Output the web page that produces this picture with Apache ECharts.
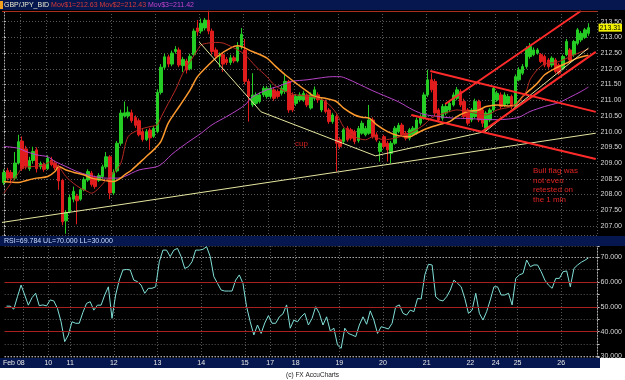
<!DOCTYPE html>
<html>
<head>
<meta charset="utf-8">
<title>GBP/JPY_BID</title>
<script src="https://cdn.jsdelivr.net/npm/echarts@6/dist/echarts.min.js"></script>
<style>
html, body { margin: 0; padding: 0; background: #fff; }
#chart { width: 625px; height: 380px; }
</style>
</head>
<body>
<div id="chart"></div>
<script>
// 2 hour bars, Feb 08 -> Feb 26, a couple of empty slots on the right
var categories = [];
for (var n = 0; n < 163; n++) categories.push('b' + n);

var dayTickIdx  = [5, 12, 18, 30, 42, 54, 66, 73, 80, 92, 104, 116, 128, 135, 141, 153];
var dayTickText = ['Feb 08', '10', '11', '12', '13', '14', '15', '17', '18', '19', '20', '21', '22', '24', '25', '26'];

// [open, close, low, high]
var ohlc = [
  [208.38,208.70,208.30,208.80],[208.76,208.52,208.45,208.85],[208.70,208.52,208.40,208.78],[208.52,209.00,208.45,209.35],
  [209.00,209.68,208.95,209.90],[209.70,208.82,208.75,209.85],[209.45,208.90,208.80,209.55],[208.82,209.08,208.75,209.20],
  [209.08,209.37,209.00,209.52],[209.42,208.82,208.70,209.50],[208.88,208.98,208.80,209.05],[208.95,208.80,208.72,209.02],
  [208.82,209.15,208.78,209.25],[209.10,208.95,208.90,209.20],[209.00,208.85,208.78,209.08],[208.85,208.43,208.15,208.95],
  [208.45,207.13,207.02,208.50],[207.16,207.43,206.75,207.50],[207.45,207.90,207.40,208.00],[207.85,208.10,207.75,208.25],
  [207.95,207.80,207.05,208.02],[207.85,208.15,207.80,208.20],[208.15,208.48,208.10,208.55],[208.46,208.73,208.40,208.80],
  [208.68,208.32,208.25,208.75],[208.55,208.25,208.18,208.60],[208.45,208.60,208.40,208.68],[208.57,208.88,208.50,208.95],
  [208.88,209.20,208.82,209.35],[209.20,208.05,207.85,209.25],[208.05,208.70,207.98,208.80],[208.75,209.63,208.70,209.70],
  [209.63,210.59,209.55,210.70],[210.50,210.60,210.45,210.96],[210.50,210.62,210.42,210.80],[210.60,210.35,210.28,210.70],
  [210.45,210.20,210.12,210.52],[210.35,209.90,209.85,210.42],[210.00,209.75,209.68,210.08],[209.75,210.00,209.70,210.08],
  [210.05,209.80,209.42,210.12],[209.85,210.10,209.80,210.18],[210.00,211.25,209.95,211.35],[211.25,212.05,211.18,212.15],
  [212.05,212.38,211.98,212.48],[212.38,212.15,212.05,212.45],[212.15,212.50,212.08,212.58],[212.55,212.62,212.48,212.72],
  [212.60,212.12,212.05,212.68],[212.10,212.30,211.90,212.38],[212.25,211.96,211.85,212.32],[212.00,212.40,211.95,212.48],
  [212.45,213.20,212.40,213.28],[213.30,213.18,213.05,213.55],[213.20,213.45,213.12,213.60],[213.30,213.55,213.22,213.62],
  [213.55,213.20,213.10,213.85],[213.20,212.55,212.45,213.28],[212.60,212.40,212.30,212.68],[212.40,212.43,212.05,212.52],
  [212.45,212.15,211.90,212.52],[212.30,212.20,212.12,212.38],[212.20,212.35,212.12,212.45],[212.35,212.25,212.18,212.42],
  [212.25,212.70,212.20,212.85],[212.70,213.10,212.62,213.30],[212.60,211.60,211.50,212.95],[211.60,211.12,210.32,211.68],
  [210.85,211.17,210.78,211.86],[210.90,211.17,210.82,211.25],[210.96,211.17,210.90,211.25],[211.17,211.38,211.10,211.45],
  [211.12,211.38,211.05,211.45],[211.12,211.38,211.05,211.50],[211.33,211.06,210.98,211.40],[211.28,211.12,211.05,211.35],
  [211.22,211.38,211.15,211.45],[211.28,211.60,211.20,211.81],[211.60,210.69,210.60,211.65],[211.17,210.69,210.62,211.25],
  [210.90,211.12,210.82,211.20],[211.01,211.17,210.95,211.25],[211.01,211.22,210.95,211.30],[211.17,210.85,210.78,211.22],
  [210.75,211.17,210.70,211.25],[211.06,211.33,211.00,211.44],[211.17,211.01,210.92,211.25],[210.69,211.01,210.62,211.08],
  [210.96,210.64,210.58,211.02],[210.69,210.32,210.25,210.75],[210.32,210.53,210.25,210.60],[210.48,209.63,208.73,210.55],
  [209.74,209.53,209.45,209.82],[209.69,210.06,209.62,210.12],[210.11,209.74,209.68,210.18],[210.06,209.79,209.72,210.12],
  [210.00,209.69,209.60,210.06],[209.72,210.10,209.65,210.18],[209.95,210.27,209.90,210.35],[209.90,210.10,209.85,210.18],
  [209.95,210.37,209.90,210.85],[210.37,209.84,209.78,210.45],[209.90,209.74,209.68,209.98],[209.37,209.63,209.05,209.70],
  [209.84,209.53,209.46,209.90],[209.63,209.42,209.05,209.70],[209.31,209.63,208.99,209.70],[209.63,210.11,209.58,210.18],
  [210.00,210.20,209.95,210.28],[210.21,209.90,209.85,210.28],[209.95,209.79,209.72,210.02],[209.79,210.06,209.72,210.12],
  [209.90,210.11,209.85,210.18],[209.95,210.37,209.90,210.45],[210.27,210.48,210.20,210.55],[210.43,211.17,210.38,211.25],
  [211.17,211.65,211.10,211.97],[211.65,211.33,211.25,211.86],[211.60,210.59,210.50,211.68],[210.69,210.37,210.30,210.75],
  [210.43,210.80,210.35,210.88],[210.59,210.80,210.52,210.88],[210.69,210.90,210.62,210.98],[210.85,211.17,210.80,211.25],
  [211.06,211.33,211.00,211.42],[211.28,210.85,210.78,211.35],[210.96,210.48,210.40,211.05],[210.69,210.27,210.20,210.75],
  [210.37,210.69,210.30,210.75],[210.48,210.96,210.42,211.05],[210.96,210.37,210.30,211.02],[210.69,210.27,210.15,210.75],
  [210.11,210.59,210.00,210.65],[210.37,210.69,210.30,210.75],[210.69,211.38,210.62,211.45],[211.01,211.22,210.95,211.30],
  [211.17,210.80,210.72,211.25],[210.85,211.17,210.78,211.25],[210.90,211.12,210.85,211.20],[211.12,210.80,210.72,211.18],
  [210.80,211.75,210.75,211.82],[211.65,211.97,211.60,212.05],[211.86,212.07,211.80,212.15],[212.07,212.65,212.00,212.72],
  [212.39,212.71,212.32,212.82],[212.45,212.60,212.40,212.68],[212.50,212.60,212.45,212.66],[212.45,212.23,212.18,212.50],
  [212.39,212.12,212.05,212.45],[212.28,212.07,212.00,212.34],[212.12,212.34,212.05,212.40],[212.28,211.91,211.85,212.34],
  [212.12,211.86,211.80,212.18],[212.02,212.39,211.95,212.45],[212.45,212.87,212.40,212.95],[212.60,212.28,212.20,212.66],
  [212.45,212.87,212.38,212.92],[212.81,213.24,212.75,213.30],[212.92,213.13,212.85,213.20],[213.00,213.24,212.95,213.30],
  [213.13,213.31,213.05,213.45]
];

var rsi = [
  50.3,50.3,49.1,54.1,58.8,54.8,50.7,53.7,55.5,50.5,
  50.8,50.4,52.8,52.4,49.4,44.0,36.0,38.7,44.0,43.4,
  43.4,47.8,51.4,52.1,48.7,50.7,50.7,54.8,58.1,45.4,
  54.8,60.8,64.9,65.1,64.9,60.8,60.2,58.8,55.5,57.5,
  57.5,58.1,68.2,72.9,72.9,70.3,72.9,73.6,70.3,65.5,
  66.2,68.2,72.9,72.9,73.2,74.3,70.3,62.2,59.5,56.8,
  56.4,56.4,56.4,60.8,62.9,59.5,50.1,44.0,38.7,42.7,
  39.3,43.5,46.5,43.4,43.4,46.0,47.2,50.8,41.4,44.7,
  44.0,46.0,47.4,42.7,45.4,50.1,47.4,42.7,46.0,40.3,
  41.4,34.6,33.3,41.4,39.3,38.7,38.0,42.7,46.0,43.0,
  48.4,44.7,39.3,42.0,41.6,41.1,43.4,50.1,50.8,47.4,
  46.7,48.7,48.1,53.4,53.2,62.9,67.2,66.9,54.1,52.8,
  52.4,54.1,56.8,60.8,59.5,58.1,53.4,47.4,48.7,55.5,
  47.4,44.7,48.1,52.8,58.1,58.1,54.8,54.8,55.5,50.8,
  61.5,62.9,63.5,68.9,66.2,66.9,66.9,64.2,60.8,58.8,
  57.5,61.5,61.5,64.2,64.5,58.1,65.5,66.9,68.0,68.8,
  69.78
];

// moving averages: [bar index, price]
var mov1 = [[0,208.04],[2,208.36],[4,208.68],[5,208.84],[8,208.89],[11,208.94],[13,209.05],[15,208.89],[17,208.57],
  [19,208.36],[21,208.2],[23,208.09],[24,208.04],[26,208.2],[28,208.46],[30,208.68],[32,208.99],[34,209.84],[37,210.06],
  [40,210.16],[42,210.22],[43,210.45],[45,210.9],[47,211.33],[49,211.86],[51,212.23],[53,212.6],[54,212.76],[56,212.82],
  [58,212.84],[60,212.82],[62,212.72],[64,212.6],[66,212.45],[69,212.07],[72,211.75],[74,211.49],[77,211.28],[80,211.17],
  [82,211.14],[85,211.1],[88,210.96],[91,210.59],[93,210.15],[96,209.84],[99,209.74],[101,209.84],[104,209.74],[107,209.79],
  [110,209.9],[112,210.0],[115,210.22],[117,210.43],[119,210.53],[122,210.64],[124,210.69],[127,210.64],[130,210.56],
  [132,210.53],[135,210.69],[139,210.8],[141,210.95],[143,211.3],[144,211.65],[146,211.97],[148,212.16],[151,212.2],
  [153,212.28],[156,212.44],[160,212.63]];
var mov2 = [[0,208.41],[4,208.38],[6,208.44],[9,208.52],[12,208.57],[14,208.73],[15,208.89],[17,208.78],[19,208.71],
  [22,208.62],[24,208.52],[27,208.46],[30,208.41],[32,208.52],[33,208.62],[35,208.78],[39,209.21],[41,209.42],[43,209.69],
  [45,210.27],[48,210.8],[51,211.33],[53,211.75],[56,212.12],[59,212.44],[62,212.66],[64,212.73],[68,212.55],[72,212.34],
  [74,212.12],[77,211.81],[80,211.54],[83,211.28],[85,211.12],[88,211.06],[91,210.96],[93,210.75],[96,210.53],[98,210.46],
  [100,210.43],[102,210.22],[105,210.0],[108,209.87],[111,209.84],[113,209.95],[116,210.11],[119,210.22],[122,210.32],
  [124,210.48],[127,210.64],[130,210.69],[132,210.8],[135,210.85],[138,210.82],[140,210.85],[142,211.12],[144,211.33],
  [146,211.54],[148,211.81],[151,212.02],[154,212.18],[157,212.34],[160,212.43]];
var mov3 = [[0,209.53],[4,209.47],[6,209.37],[9,209.26],[12,209.2],[14,209.05],[17,208.89],[20,208.73],[23,208.62],
  [25,208.57],[28,208.52],[31,208.52],[33,208.57],[37,208.78],[42,208.89],[44,209.05],[46,209.28],[50,209.63],[54,209.95],
  [57,210.22],[61,210.48],[64,210.69],[66,210.85],[68,211.1],[72,211.33],[75,211.44],[79,211.6],[83,211.65],[86,211.7],
  [90,211.75],[92,211.75],[94,211.68],[97,211.52],[101,211.3],[104,211.15],[108,210.95],[112,210.69],[115,210.55],
  [119,210.48],[123,210.43],[127,210.42],[131,210.39],[135,210.38],[138,210.4],[141,210.46],[144,210.64],[148,210.8],
  [152,210.93],[155,211.1],[158,211.28],[160,211.42]];

// hand drawn lines on the chart: [bar index, price]
var cupLine = [[53.5,212.85],[70.4,210.63],[101.7,209.23],[131.7,210.0],[160.0,212.66]];
var trendLine = [[-0.5,207.11],[162,209.95]];
var channelTop = [[120.8,210.88],[157.9,213.84]];
var channelBottom = [[130.9,210.0],[162,212.54]];
var flagTop = [[116.7,211.93],[162,210.63]];
var flagBottom = [[111.5,210.53],[162,209.13]];

var FONT = '"Liberation Sans", Arial, sans-serif';
var GREEN = '#24cc24', RED = '#e01c1c', NAVY = '#06164e';
var gridLine = { color: '#585858', width: 1, type: [1, 2] };
var lastClose = ohlc[ohlc.length - 1][1];

function isDayTick(idx) { return dayTickIdx.indexOf(idx) >= 0; }

var catData = categories.map(function (c, i) {
  return i === dayTickIdx[0] ? { value: c, textStyle: { align: 'right', padding: 0 } } : c;
});

function drawnLine(data, color, width) {
  return {
    type: 'line', xAxisIndex: 1, yAxisIndex: 0, data: data, showSymbol: false, silent: true,
    lineStyle: { color: color, width: width }, z: 4
  };
}
function maLine(data, color, width) {
  return {
    type: 'line', xAxisIndex: 1, yAxisIndex: 0, data: data, showSymbol: false, silent: true,
    smooth: 0.3, lineStyle: { color: color, width: width }, z: 3
  };
}

var chart = echarts.init(document.getElementById('chart'), null, { renderer: 'canvas' });

var option = {
  animation: false,
  backgroundColor: '#000',
  textStyle: { fontFamily: FONT },
  title: [
    {
      left: 4, top: 1, padding: 0,
      text: '{a|GBP/JPY_BID} {b|Mov$1=212.63} {b|Mov$2=212.43} {c|Mov$3=211.42}',
      textStyle: {
        fontSize: 7, fontWeight: 'normal', fontFamily: FONT, lineHeight: 8, color: '#e8e8d0',
        rich: {
          a: { color: '#e8e8d0', fontSize: 7, fontFamily: FONT, lineHeight: 8 },
          b: { color: '#d83a3a', fontSize: 7, fontFamily: FONT, lineHeight: 8 },
          c: { color: '#c444cc', fontSize: 7, fontFamily: FONT, lineHeight: 8 }
        }
      }
    },
    {
      left: 4, top: 237, padding: 0,
      text: 'RSI=69.784 UL=70.000 LL=30.000',
      textStyle: { fontSize: 7, fontWeight: 'normal', fontFamily: FONT, lineHeight: 8, color: '#c8dcff' }
    }
  ],
  graphic: [
    { type: 'rect', z: -10, shape: { x: 0, y: 0, width: 625, height: 10 }, style: { fill: NAVY } },
    { type: 'rect', z: -10, shape: { x: 0, y: 236, width: 625, height: 10 }, style: { fill: NAVY } },
    { type: 'rect', z: -10, shape: { x: 0, y: 358, width: 600, height: 10 }, style: { fill: NAVY } },
    { type: 'rect', z: -10, shape: { x: 600, y: 358, width: 25, height: 22 }, style: { fill: '#fff' } },
    { type: 'rect', z: -10, shape: { x: 0, y: 368, width: 625, height: 12 }, style: { fill: '#fff' } },
    { type: 'rect', z: -9, shape: { x: 0, y: 1, width: 3, height: 8 }, style: { fill: '#f0a020' } },
    { type: 'text', z: 50, left: 295, top: 140, style: { text: 'cup', fill: '#d42020', font: '8px ' + FONT } },
    { type: 'text', z: 50, left: 533, top: 166,
      style: { text: 'Bull flag was\nnot even\nretested on\nthe 1 min', fill: '#e02424', font: '8px ' + FONT, lineHeight: 9.7 } },
    { type: 'text', z: 50, left: 286, top: 372, style: { text: '(c) FX AccuCharts', fill: '#222', font: '6.5px ' + FONT } }
  ],
  grid: [
    { left: 2, right: 25, top: 11, height: 224 },
    { left: 2, right: 25, top: 246, height: 111 }
  ],
  xAxis: [
    {
      type: 'category', gridIndex: 0, data: catData, boundaryGap: true,
      axisLine: { show: false }, axisTick: { show: false }, axisLabel: { show: false },
      splitLine: { show: true, interval: function (i) { return isDayTick(i); }, lineStyle: gridLine }
    },
    { type: 'value', gridIndex: 0, min: -0.5, max: 162.5, show: false },
    {
      type: 'category', gridIndex: 1, data: catData, boundaryGap: true,
      axisLine: { show: false }, axisTick: { show: false },
      axisLabel: {
        interval: function (i) { return isDayTick(i); },
        formatter: function (v) { return dayTickText[dayTickIdx.indexOf(categories.indexOf(v))] || ''; },
        color: '#e8e8e8', fontSize: 7, fontFamily: FONT, margin: 3, padding: [0, 3.6, 0, 0]
      },
      splitLine: { show: true, interval: function (i) { return isDayTick(i); }, lineStyle: gridLine }
    }
  ],
  yAxis: [
    {
      type: 'value', gridIndex: 0, position: 'right', min: 206.71, max: 213.84, splitNumber: 14,
      axisLine: { show: true, lineStyle: { color: '#b0b0b0', type: [1, 2] } },
      axisTick: { show: true, length: 2, lineStyle: { color: '#c0c0c0' } },
      axisLabel: {
        color: '#d8d8d8', fontSize: 7, fontFamily: FONT, margin: 3,
        formatter: function (v) { return Math.abs(v * 2 - Math.round(v * 2)) < 1e-6 ? v.toFixed(2) : ''; }
      },
      splitLine: { show: true, lineStyle: gridLine }
    },
    {
      type: 'value', gridIndex: 1, position: 'right', min: 29.8, max: 74.56, splitNumber: 9,
      axisLine: { show: true, lineStyle: { color: '#b0b0b0', type: [1, 2] } },
      axisTick: { show: true, length: 2, lineStyle: { color: '#c0c0c0' } },
      axisLabel: {
        color: '#d8d8d8', fontSize: 7, fontFamily: FONT, margin: 3,
        formatter: function (v) { return Math.abs(v / 10 - Math.round(v / 10)) < 1e-6 ? v.toFixed(3) : ''; }
      },
      splitLine: { show: true, lineStyle: gridLine }
    }
  ],
  series: [
    {
      type: 'candlestick', xAxisIndex: 0, yAxisIndex: 0, data: ohlc, barWidth: 3, silent: true, clip: false,
      itemStyle: { color: GREEN, color0: RED, borderColor: GREEN, borderColor0: RED, borderWidth: 1 },
      markLine: {
        symbol: 'none', silent: true, animation: false,
        data: [
          { yAxis: 213.83, lineStyle: { color: '#a8301c', width: 1, type: 'solid' }, label: { show: false } }
        ]
      }
    },
    {
      // last price tag on the price axis
      type: 'line', xAxisIndex: 1, yAxisIndex: 0, data: [], silent: true, clip: false, z: 6,
      markLine: {
        symbol: 'none', silent: true, animation: false,
        data: [{
          yAxis: lastClose, lineStyle: { color: 'transparent', width: 0 },
          label: {
            show: true, position: 'end', distance: 1, formatter: lastClose.toFixed(2),
            backgroundColor: '#f2f200', color: '#000', fontSize: 7, fontFamily: FONT, padding: [1, 1, 0, 1]
          }
        }]
      }
    },
    maLine(mov3, '#b844c8', 1),
    maLine(mov2, '#ff9a2e', 1.5),
    maLine(mov1, '#b42a22', 1),
    drawnLine(trendLine, '#e6e6a0', 1),
    drawnLine(cupLine, '#e6e6a0', 1),
    drawnLine(flagTop, '#ff2a2a', 2),
    drawnLine(flagBottom, '#ff2a2a', 2),
    drawnLine(channelTop, '#ff2a2a', 2),
    drawnLine(channelBottom, '#ff2a2a', 2),
    {
      type: 'line', xAxisIndex: 2, yAxisIndex: 1, data: rsi, showSymbol: false, silent: true,
      lineStyle: { color: '#80e0d8', width: 1 }, z: 4,
      markLine: {
        symbol: 'none', silent: true, animation: false, label: { show: false },
        data: [
          { yAxis: 60, lineStyle: { color: '#a82020', width: 1.2, type: 'solid' } },
          { yAxis: 50, lineStyle: { color: '#a82020', width: 1.2, type: 'solid' } },
          { yAxis: 40, lineStyle: { color: '#a82020', width: 1.2, type: 'solid' } },
          { yAxis: 70, lineStyle: { color: '#d8d8d8', width: 1, type: [1, 2] } },
          { yAxis: 30, lineStyle: { color: '#d8d8d8', width: 1, type: [1, 2] } }
        ]
      }
    }
  ]
};

chart.setOption(option);
</script>
</body>
</html>
